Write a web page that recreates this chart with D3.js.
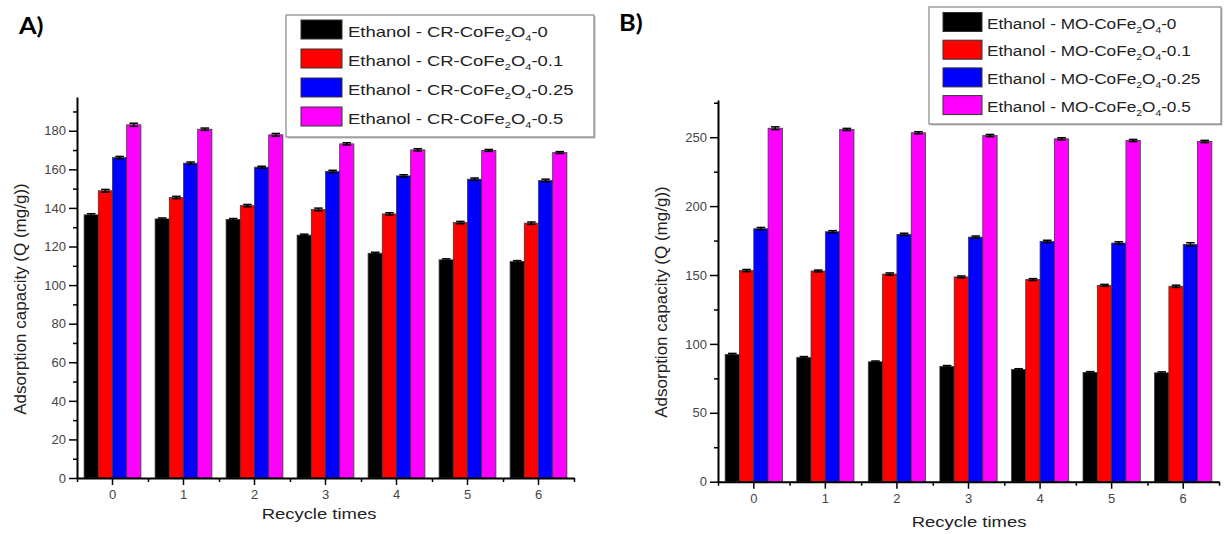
<!DOCTYPE html>
<html><head><meta charset="utf-8">
<script src="https://cdn.jsdelivr.net/npm/d3@7"></script>
<style>
body{margin:0;background:#fff}
svg{display:block}
text{font-family:"Liberation Sans",Arial,sans-serif}
</style>
</head><body>
<svg id="chart" width="1224" height="534"></svg>
<script>
// ---------- data ----------
const categories = ["0","1","2","3","4","5","6"];
const seriesSuffix = ["0","0.1","0.25","0.5"];
const seriesColors = ["#000000","#ff0000","#0000ff","#ff00ff"];

// Panel A: Ethanol - CR-CoFe2O4
const crBlack   = [136.4,134.3,134.0,125.9,116.5,113.1,112.2];
const crRed     = [148.9,145.4,141.2,139.2,136.9,132.4,132.1];
const crBlue    = [166.1,163.2,161.1,158.9,156.6,154.9,154.2];
const crMagenta = [183.1,180.8,177.9,173.2,170.1,169.8,168.7];
const crErrBlack   = [0.6,0.5,0.5,0.5,0.5,0.5,0.5];
const crErrRed     = [0.7,0.6,0.6,0.7,0.6,0.6,0.6];
const crErrBlue    = [0.6,0.6,0.5,0.6,0.6,0.6,0.7];
const crErrMagenta = [0.8,0.6,0.7,0.6,0.6,0.5,0.5];
const crYTicks  = [0,20,40,60,80,100,120,140,160,180];
const crYMinor  = [10,30,50,70,90,110,130,150,170,190];

// Panel B: Ethanol - MO-CoFe2O4
const moBlack   = [92.3,90.1,87.0,83.6,81.4,79.3,79.0];
const moRed     = [153.2,152.9,150.7,148.6,146.7,142.5,141.8];
const moBlue    = [183.6,181.4,179.5,177.5,174.4,173.2,172.2];
const moMagenta = [256.5,255.6,253.2,251.2,248.8,247.6,246.9];
const moErrBlack   = [0.8,0.7,0.6,0.7,0.6,0.6,0.7];
const moErrRed     = [0.8,0.7,0.8,0.7,0.7,0.7,0.8];
const moErrBlue    = [0.9,0.8,0.8,0.8,0.8,0.9,1.2];
const moErrMagenta = [1.0,0.8,0.8,0.8,0.8,0.8,0.8];
const moYTicks  = [0,50,100,150,200,250];
const moYMinor  = [25,75,125,175,225,275];

const xTitle = "Recycle times";
const yTitle = "Adsorption capacity (Q (mg/g))";

// ---------- drawing ----------
const svg = d3.select("#chart");

function stext(g, x, y, str, o) {
  const t = g.append("text")
    .attr("transform", `translate(${x},${y}) scale(${o.sx || 1},1)` + (o.rot ? ` rotate(${o.rot})` : ""))
    .attr("text-anchor", o.anchor || "start")
    .attr("font-size", o.size)
    .attr("fill", o.fill || "#222");
  if (o.weight) t.attr("font-weight", o.weight);
  if (o.family) t.style("font-family", o.family);
  t.text(str);
  return t;
}

function drawPanel(cfg) {
  const g = svg.append("g");
  const series = cfg.series;
  const errs = cfg.errors;

  const xBand = d3.scaleBand().domain(categories).range([cfg.x0, cfg.x1])
      .paddingInner(0.2).paddingOuter(0.1);
  const xSub = d3.scaleBand().domain(d3.range(series.length)).range([0, xBand.bandwidth()]);
  const xLin = d3.scaleLinear().domain([-0.5, categories.length - 0.5]).range([cfg.x0, cfg.x1]);
  const y = d3.scaleLinear().domain([0, cfg.yMax]).range([cfg.yBase, cfg.yTop]);

  // bars
  series.forEach((vals, s) => {
    g.append("g").selectAll("rect").data(vals).join("rect")
      .attr("x", (d, i) => xBand(categories[i]) + xSub(s))
      .attr("y", d => y(d))
      .attr("width", xSub.bandwidth())
      .attr("height", d => y(0) - y(d))
      .attr("fill", seriesColors[s])
      .attr("stroke", "#3a3a3a").attr("stroke-width", 0.8);
  });
  // error bars
  series.forEach((vals, s) => {
    const eg = g.append("g").attr("stroke", "#000").attr("stroke-width", 1.5);
    vals.forEach((v, i) => {
      const cx = xBand(categories[i]) + xSub(s) + xSub.bandwidth() / 2;
      const e = errs[s][i];
      const hw = xSub.bandwidth() * 0.3;
      eg.append("line").attr("x1", cx).attr("x2", cx).attr("y1", y(v - e)).attr("y2", y(v + e));
      eg.append("line").attr("x1", cx - hw).attr("x2", cx + hw).attr("y1", y(v + e)).attr("y2", y(v + e));
      eg.append("line").attr("x1", cx - hw).attr("x2", cx + hw).attr("y1", y(v - e)).attr("y2", y(v - e));
    });
  });

  // y axis
  const ya = g.append("g").attr("transform", `translate(${cfg.x0},0)`)
    .call(d3.axisLeft(y).tickValues(cfg.yTicks).tickSize(8).tickPadding(3).tickSizeOuter(0));
  ya.select(".domain").attr("stroke", "#000").attr("stroke-width", 2);
  ya.selectAll(".tick line").attr("stroke", "#000").attr("stroke-width", 1.5);
  ya.selectAll(".tick text").attr("font-size", cfg.tickSize).attr("fill", "#444")
    .style("font-family", '"Liberation Sans",Arial,sans-serif');
  const ym = g.append("g").attr("transform", `translate(${cfg.x0},0)`)
    .call(d3.axisLeft(y).tickValues(cfg.yMinor).tickSize(4).tickFormat("").tickSizeOuter(0));
  ym.select(".domain").remove();
  ym.selectAll(".tick line").attr("stroke", "#000").attr("stroke-width", 1.5);

  // x axis
  const xa = g.append("g").attr("transform", `translate(0,${cfg.yBase})`)
    .call(d3.axisBottom(xBand).tickSize(7).tickPadding(5).tickSizeOuter(0));
  xa.select(".domain").attr("stroke", "#000").attr("stroke-width", 2);
  xa.selectAll(".tick line").attr("stroke", "#000").attr("stroke-width", 1.5);
  xa.selectAll(".tick text").attr("font-size", cfg.tickSize).attr("fill", "#444")
    .style("font-family", '"Liberation Sans",Arial,sans-serif');
  const xm = g.append("g").attr("transform", `translate(0,${cfg.yBase})`)
    .call(d3.axisBottom(xLin).tickValues(d3.range(-0.5, categories.length, 1)).tickSize(4).tickFormat("").tickSizeOuter(0));
  xm.select(".domain").remove();
  xm.selectAll(".tick line").attr("stroke", "#000").attr("stroke-width", 1.5);

  // titles
  stext(g, cfg.xTitleX, cfg.xTitleY, xTitle, {size: 15, sx: 1.23, anchor: "middle", fill: "#222"});
  stext(g, cfg.yTitleX, cfg.yTitleY, yTitle, {size: 17, rot: -90, anchor: "middle", fill: "#222"});

  // panel label
  stext(g, cfg.labelX, cfg.labelY, cfg.label, {size: 23, sx: 1.1, weight: 700, fill: "#000", family: "Lato, 'Open Sans', sans-serif"});

  // legend
  const L = cfg.legend;
  const lg = g.append("g");
  lg.append("rect").attr("x", L.x + 1.5).attr("y", L.y + 1.5).attr("width", L.w).attr("height", L.h)
    .attr("fill", "#bbb");
  lg.append("rect").attr("x", L.x).attr("y", L.y).attr("width", L.w).attr("height", L.h)
    .attr("fill", "#fff").attr("stroke", "#888").attr("stroke-width", 1.2);
  seriesSuffix.forEach((suf, s) => {
    const cy = L.row0 + s * L.step;
    lg.append("rect").attr("x", L.sx).attr("y", cy - L.sh / 2).attr("width", L.sw).attr("height", L.sh)
      .attr("fill", seriesColors[s]).attr("stroke", "#333").attr("stroke-width", 1);
    const t = lg.append("text")
      .attr("transform", `translate(${L.tx},${cy + L.base}) scale(1.23,1)`)
      .attr("font-size", L.size).attr("fill", "#222");
    t.append("tspan").text(`Ethanol - ${cfg.dye}-CoFe`);
    t.append("tspan").attr("dy", 4).attr("font-size", L.size * 0.6).text("2");
    t.append("tspan").attr("dy", -4).text("O");
    t.append("tspan").attr("dy", 4).attr("font-size", L.size * 0.6).text("4");
    t.append("tspan").attr("dy", -4).text("-" + suf);
  });
}

drawPanel({
  label: "A)", labelX: 19, labelY: 34, dye: "CR",
  x0: 77, x1: 574, yBase: 478, yTop: 97, yMax: 197.5,
  yTicks: crYTicks, yMinor: crYMinor, tickSize: 13,
  series: [crBlack, crRed, crBlue, crMagenta],
  errors: [crErrBlack, crErrRed, crErrBlue, crErrMagenta],
  xTitleX: 319, xTitleY: 519, yTitleX: 26, yTitleY: 299,
  legend: {x: 286, y: 15, w: 308, h: 122, sx: 301, sw: 41, sh: 19, row0: 29.5, step: 29, tx: 348, base: 7.5, size: 15}
});

drawPanel({
  label: "B)", labelX: 619, labelY: 31, dye: "MO",
  x0: 718, x1: 1219, yBase: 481.7, yTop: 100, yMax: 277,
  yTicks: moYTicks, yMinor: moYMinor, tickSize: 13,
  series: [moBlack, moRed, moBlue, moMagenta],
  errors: [moErrBlack, moErrRed, moErrBlue, moErrMagenta],
  xTitleX: 969, xTitleY: 527, yTitleX: 667, yTitleY: 302,
  legend: {x: 929, y: 7, w: 292, h: 117, sx: 943, sw: 39, sh: 19, row0: 22, step: 27.7, tx: 987, base: 6.5, size: 14}
});
</script>
</body></html>
